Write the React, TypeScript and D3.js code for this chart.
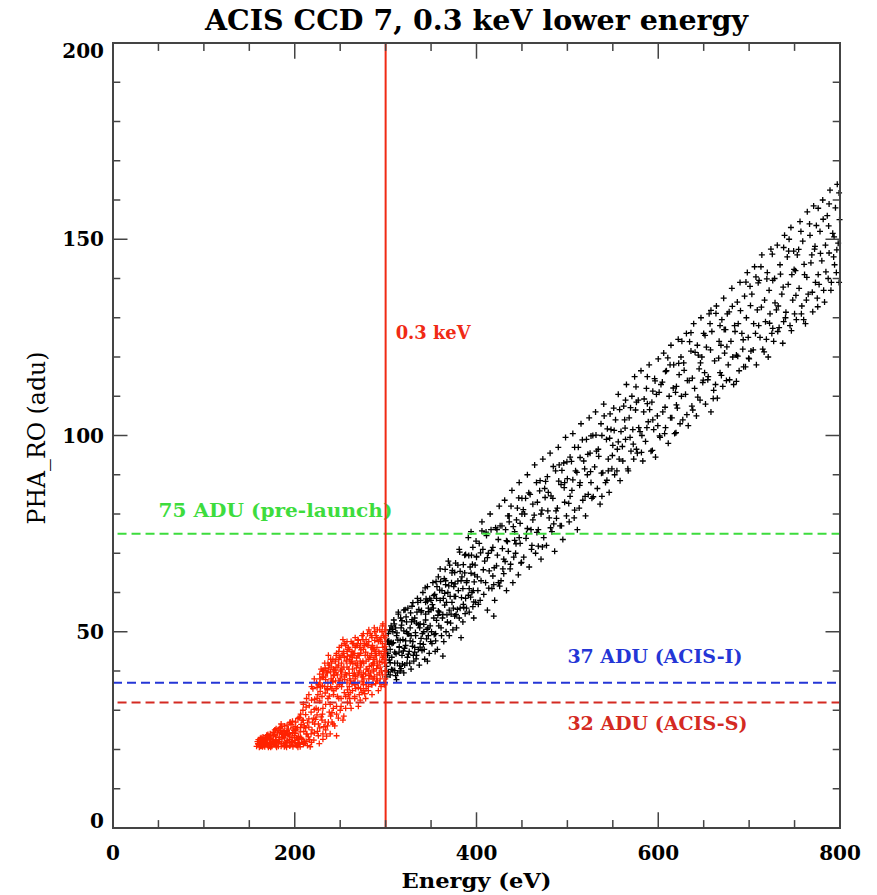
import * as d3 from 'd3';

// ---- chart text ----
const title = 'ACIS CCD 7, 0.3 keV lower energy';
const xLabel = 'Energy (eV)';
const yLabel = 'PHA_RO (adu)';

// ---- ticks ----
const xMajorTicks = [0, 200, 400, 600, 800];
const xMinorTicks = [50, 100, 150, 250, 300, 350, 450, 500, 550, 650, 700, 750];
const yMajorTicks = [0, 50, 100, 150, 200];
const yMinorTicks = [10, 20, 30, 40, 60, 70, 80, 90, 110, 120, 130, 140, 160, 170, 180, 190];

// ---- reference lines ----
const cutEnergy = 300; // eV
const cutLabel = '0.3 keV';
const thresholdKeys = ['pre', 'acisI', 'acisS'];
const thresholdValues = [75, 37, 32];
const thresholdLabels = ['75 ADU (pre-launch)', '37 ADU (ACIS-I)', '32 ADU (ACIS-S)'];

// ---- events below 0.3 keV (energy eV, pha adu) ----
const lowEventsA: [number, number][] = [
  [158, 20.8], [159, 22.0], [160, 21.3], [161, 20.6], [162, 22.8], [163, 21.7], [164, 20.9], [165, 23.2], [166, 22.1], [167, 20.7],
  [168, 21.5], [169, 23.6], [170, 22.4], [171, 20.6], [172, 21.8], [173, 24.0], [174, 22.9], [175, 20.8],
  [176, 23.5], [177, 21.2], [178, 25.0], [179, 22.4], [180, 20.6], [181, 24.2], [182, 21.9], [183, 23.1], [184, 25.6], [185, 20.8],
  [186, 22.7], [187, 24.8], [188, 21.4], [189, 26.0], [190, 23.6], [191, 20.6], [192, 22.2], [193, 25.2], [194, 24.0], [195, 21.1],
  [196, 26.4], [197, 23.0], [198, 20.7], [199, 24.9], [200, 22.3],
  [201, 27.0], [202, 21.0], [203, 25.5], [204, 23.4], [205, 28.2], [206, 20.7], [207, 26.4], [208, 22.5], [209, 30.0], [210, 24.6],
  [211, 21.6], [212, 28.9], [213, 33.0], [214, 26.8], [215, 23.2], [216, 31.2], [217, 20.7], [218, 29.5], [219, 25.0], [220, 35.5],
  [221, 22.4], [222, 32.8], [223, 27.7], [224, 37.0], [225, 24.6], [226, 30.1], [227, 21.5], [228, 34.8], [229, 28.3], [230, 38.4],
  [231, 22.6], [232, 25.8], [233, 36.0], [234, 31.5], [235, 23.4], [236, 39.5], [237, 27.0], [238, 33.6], [239, 24.0], [240, 41.0],
  [241, 29.4], [242, 37.2], [243, 35.0], [244, 26.0], [245, 42.5], [246, 31.0], [247, 39.0], [248, 28.0], [249, 36.5], [250, 43.5],
  [251, 33.0], [252, 40.5], [253, 27.5], [254, 45.0], [255, 37.8], [256, 30.5], [257, 42.6], [258, 35.2], [259, 46.0], [260, 39.4],
  [261, 31.8], [262, 44.1], [263, 36.7], [264, 41.8], [265, 47.0], [266, 33.5], [267, 38.6], [268, 43.3], [269, 46.5], [270, 35.8],
  [271, 40.0], [272, 32.6], [273, 45.4], [274, 37.4], [275, 48.0], [276, 42.0], [277, 34.2], [278, 39.2], [279, 46.8], [280, 44.0],
  [281, 36.0], [282, 41.2], [283, 49.5], [284, 38.5], [285, 34.0], [286, 45.6], [287, 43.0], [288, 47.8], [289, 36.8], [290, 40.6],
  [291, 50.5], [292, 35.0], [293, 44.5], [294, 38.0], [295, 48.5], [296, 42.2], [297, 52.0], [298, 37.0], [299, 46.2], [299.5, 40.0],
  [226, 36.5], [228, 38.0], [230, 33.5], [232, 40.0], [234, 37.8], [236, 35.2], [238, 41.5], [240, 38.0], [242, 43.0], [244, 40.2],
  [246, 44.5], [248, 41.5], [250, 38.0], [252, 44.0], [254, 41.0], [256, 46.5], [258, 43.8], [260, 36.0], [262, 47.5], [264, 38.8],
  [266, 44.5], [268, 40.8], [270, 47.8], [272, 42.5], [274, 49.0], [276, 38.0], [278, 44.8], [280, 49.5], [282, 38.8], [284, 46.0],
  [286, 42.0], [288, 50.0], [290, 44.0], [292, 47.5], [294, 41.0], [296, 50.0], [298, 44.0], [299.8, 49.0],
  [229, 40.5], [233, 42.0], [237, 44.0], [241, 35.5], [245, 37.5], [249, 46.0], [253, 48.0], [257, 39.0], [261, 42.0], [265, 37.0],
  [269, 41.5], [273, 39.0], [277, 46.5], [281, 40.0], [285, 48.5], [289, 45.0], [293, 39.5], [297, 46.0], [263, 45.0], [271, 44.0],
  [279, 37.0], [287, 40.0], [295, 44.5], [283, 43.5], [275, 42.5], [267, 35.5], [259, 34.0], [247, 33.5], [239, 31.5], [231, 30.5],
  [218, 24.0], [222, 26.5], [226, 23.5], [230, 27.5], [234, 25.0], [238, 29.5], [242, 26.5], [246, 23.5], [250, 30.0], [254, 28.5],
  [258, 32.0], [262, 30.5], [266, 33.0], [270, 31.0], [274, 34.5], [278, 33.0], [285, 36.5], [290, 37.5], [295, 36.0], [299.6, 38.0],
  [160, 22.5], [163, 23.0], [166, 21.0], [170, 21.0], [174, 21.5], [178, 22.0], [182, 20.8], [186, 24.0], [190, 21.8], [194, 22.5],
  [198, 25.5], [202, 23.0], [206, 24.5], [210, 22.0], [214, 21.0], [205, 21.5], [195, 27.0], [185, 26.5], [212, 25.5], [208, 27.5],
];

const lowEventsB: [number, number][] = [
  [161.5, 21.8], [164.5, 22.4], [164.5, 20.7], [167.5, 23.0], [167.5, 21.6], [170.5, 23.8], [170.5, 21.2], [173.5, 22.6], [173.5, 20.6],
  [176.5, 24.4], [176.5, 21.9], [179.5, 23.2], [179.5, 20.9], [179.5, 25.3], [182.5, 24.9], [182.5, 22.6],
  [185.5, 21.5], [185.5, 23.8], [185.5, 25.9], [188.5, 22.9], [188.5, 24.5], [188.5, 20.7], [191.5, 26.2], [191.5, 24.8], [191.5, 21.6],
  [194.5, 23.4], [194.5, 20.9], [194.5, 26.8], [197.5, 22.0], [197.5, 24.3], [197.5, 27.2], [200.5, 21.4], [200.5, 25.9], [200.5, 24.1],
  [203.5, 27.9], [203.5, 22.6], [203.5, 20.6], [206.5, 25.6], [206.5, 29.0], [206.5, 23.1], [209.5, 21.3], [209.5, 27.4], [209.5, 31.5],
  [212.5, 23.9], [212.5, 30.8], [212.5, 22.1], [215.5, 27.8], [215.5, 34.0], [215.5, 25.7], [218.5, 32.6], [218.5, 21.8], [218.5, 36.0],
  [221.5, 30.2], [221.5, 38.0], [221.5, 24.2], [224.5, 33.0], [224.5, 35.8], [224.5, 28.8],
  [227.5, 39.2], [227.5, 37.0], [227.5, 32.4], [227.5, 25.5], [230.5, 36.2], [230.5, 40.0], [230.5, 29.0],
  [233.5, 38.5], [233.5, 34.4], [233.5, 40.8], [233.5, 27.0], [236.5, 37.0], [236.5, 42.0], [236.5, 33.0],
  [239.5, 39.8], [239.5, 36.0], [239.5, 43.0], [239.5, 28.5], [242.5, 40.5], [242.5, 34.0], [242.5, 38.8], [242.5, 30.5],
  [245.5, 41.0], [245.5, 44.0], [245.5, 35.5], [245.5, 39.5], [248.5, 43.0], [248.5, 37.5], [248.5, 45.0], [248.5, 33.0],
  [251.5, 39.0], [251.5, 42.0], [251.5, 36.0], [251.5, 46.5], [254.5, 43.5], [254.5, 38.5], [254.5, 47.0], [254.5, 34.5],
  [257.5, 45.0], [257.5, 41.0], [257.5, 37.0], [257.5, 47.5], [260.5, 43.0], [260.5, 38.0], [260.5, 45.5], [260.5, 33.0],
  [263.5, 40.5], [263.5, 47.0], [263.5, 43.5], [263.5, 35.0], [266.5, 46.0], [266.5, 42.0], [266.5, 38.0], [266.5, 48.5],
  [269.5, 44.0], [269.5, 39.0], [269.5, 37.0], [269.5, 48.0], [272.5, 47.0], [272.5, 41.0], [272.5, 44.5], [272.5, 35.5],
  [275.5, 45.5], [275.5, 39.5], [275.5, 49.5], [275.5, 36.5], [278.5, 42.5], [278.5, 48.0], [278.5, 35.5], [278.5, 40.5],
  [281.5, 47.5], [281.5, 43.0], [281.5, 50.5], [281.5, 38.0], [284.5, 41.5], [284.5, 49.0], [284.5, 44.5], [284.5, 36.5],
  [287.5, 45.5], [287.5, 38.5], [287.5, 51.0], [287.5, 42.0], [290.5, 48.5], [290.5, 42.5], [290.5, 46.0], [290.5, 39.0],
  [293.5, 50.5], [293.5, 37.0], [293.5, 42.5], [293.5, 48.0], [296.5, 39.0], [296.5, 47.0], [296.5, 43.5], [296.5, 51.5],
  [298.8, 42.0], [298.8, 48.5], [298.8, 36.5], [298.8, 45.0],
];

const lowEventsC: [number, number][] = [
  [159.5, 21.5], [162.5, 20.8], [165.5, 21.9], [168.5, 22.6], [171.5, 23.2], [172.5, 20.9], [175.5, 22.0], [177.5, 23.8], [180.5, 21.7],
  [183.5, 22.0], [184.5, 24.5], [187.5, 23.3], [189.5, 21.0], [192.5, 23.8], [196.5, 21.8], [199.5, 23.5], [201.5, 25.0], [204.5, 21.8],
  [207.5, 22.8], [210.5, 26.0], [213.5, 24.0], [216.5, 22.5], [219.5, 27.0], [223.5, 30.5], [225.5, 34.0], [228.5, 36.0], [231.5, 38.5],
  [234.5, 39.5], [235.5, 35.5], [237.5, 40.5], [240.5, 42.0], [241.5, 37.5], [243.5, 39.0], [244.5, 42.5], [246.5, 36.0], [247.5, 41.0],
  [249.5, 43.5], [250.5, 40.0], [252.5, 37.0], [253.5, 44.5], [255.5, 39.5], [256.5, 42.5], [258.5, 45.5], [259.5, 40.5], [261.5, 37.5],
  [262.5, 42.5], [264.5, 44.5], [265.5, 39.5], [267.5, 46.5], [268.5, 42.0], [270.5, 39.5], [271.5, 46.0], [273.5, 42.0], [274.5, 38.5],
  [276.5, 47.0], [277.5, 44.0], [279.5, 40.5], [280.5, 46.5], [282.5, 43.5], [283.5, 39.5], [285.5, 46.5], [286.5, 40.5], [288.5, 44.0],
  [289.5, 49.0], [291.5, 41.5], [292.5, 45.0], [294.5, 47.5], [295.5, 40.0], [297.5, 49.0], [298.2, 43.0], [299.2, 50.5], [291, 37.5],
  [286, 38.0], [281, 35.0], [276, 35.0], [271, 34.0], [266, 36.5], [261, 34.5], [256, 33.5], [251, 31.0], [246, 29.0], [241, 27.0],
  [236, 26.0], [231, 24.0], [226, 26.5], [221, 28.0],
];

// ---- events at or above 0.3 keV ----
const highEventsA: [number, number][] = [
  [301, 38.5], [302, 44.0], [303, 49.5], [301, 41.2], [304, 46.8], [305, 39.0], [306, 51.5], [304, 42.8], [307, 47.0], [308, 40.2],
  [309, 53.0], [310, 44.8], [311, 38.8], [312, 49.0], [313, 42.0], [314, 54.5], [315, 46.0], [316, 40.0], [317, 51.0], [318, 44.0],
  [319, 48.0], [320, 55.5], [321, 41.5], [322, 46.5], [323, 52.5], [324, 43.5], [305, 45.5], [308, 50.0], [312, 37.8], [316, 47.8],
  [320, 39.5], [324, 49.5], [302, 47.5], [310, 42.0], [318, 52.8],
  [326, 45.0], [327, 51.0], [328, 40.5], [329, 56.5], [330, 47.5], [331, 42.5], [332, 53.5], [333, 49.0], [334, 44.0], [335, 58.5],
  [336, 51.8], [337, 41.5], [338, 47.0], [339, 55.0], [340, 45.2], [341, 60.0], [342, 50.0], [343, 43.0], [344, 53.0], [345, 48.2],
  [346, 61.5], [347, 56.0], [348, 44.5], [349, 51.5], [350, 58.0], [332, 46.0], [338, 52.0], [344, 57.5], [328, 49.0], [346, 42.5],
  [351, 47.0], [352, 62.5], [353, 53.5], [355, 49.5], [356, 58.5], [357, 45.5], [359, 55.0], [360, 66.0], [361, 51.0], [362, 60.5],
  [364, 47.5], [365, 56.8], [366, 63.0], [368, 52.5], [369, 68.0], [370, 49.0], [371, 59.0], [372, 54.5], [373, 65.0], [374, 50.5],
  [375, 61.5], [358, 64.0], [363, 43.8], [367, 57.5], [354, 59.5],
  [376, 54.0], [377, 67.5], [378, 51.0], [380, 60.5], [381, 71.0], [382, 56.0], [384, 64.0], [385, 52.5], [387, 69.5], [388, 58.5],
  [389, 62.5], [391, 74.0], [392, 55.0], [393, 66.5], [395, 60.0], [396, 71.5], [397, 53.5], [398, 64.5], [399, 57.5], [400, 69.0],
  [383, 48.5], [394, 75.5],
  [402, 57.0], [403, 72.5], [405, 63.0], [406, 78.0], [408, 59.5], [409, 68.0], [411, 74.5], [412, 55.5], [414, 65.5], [415, 80.0],
  [417, 61.0], [418, 71.5], [420, 58.0], [421, 76.5], [422, 66.8], [424, 62.5], [425, 82.0], [419, 54.0],
  [427, 63.0], [428, 77.0], [430, 68.5], [431, 83.5], [433, 60.5], [434, 73.0], [436, 79.5], [437, 66.0], [439, 86.0], [440, 62.5],
  [442, 75.5], [443, 70.0], [445, 81.5], [446, 64.5], [447, 88.0], [448, 72.5], [449, 67.5], [450, 84.0],
  [452, 69.0], [453, 80.0], [455, 75.0], [456, 90.0], [458, 66.5], [459, 85.0], [461, 72.0], [462, 78.5], [464, 92.5], [465, 70.0],
  [467, 83.0], [468, 76.0], [470, 88.5], [471, 68.5], [472, 81.0], [473, 94.0], [474, 74.0], [475, 86.5],
  [477, 72.0], [478, 89.5], [480, 79.0], [481, 95.5], [483, 75.5], [484, 84.0], [486, 70.5], [487, 91.0], [489, 81.5], [490, 97.0],
  [492, 77.0], [493, 87.5], [495, 73.5], [496, 93.0], [497, 83.0], [498, 99.5], [499, 79.5], [500, 89.0],
  [502, 78.0], [503, 94.5], [505, 86.0], [506, 100.5], [508, 81.0], [509, 91.0], [511, 76.0], [512, 97.0], [514, 88.0], [515, 103.0],
  [517, 83.5], [518, 93.5], [520, 79.5], [521, 99.0], [522, 90.0], [523, 85.0], [524, 104.5], [525, 95.5],
  [527, 84.0], [528, 100.0], [530, 92.0], [531, 106.0], [533, 86.5], [534, 96.5], [536, 82.5], [537, 103.0], [539, 90.5], [540, 108.0],
  [542, 88.0], [543, 99.0], [545, 94.0], [546, 85.5], [547, 105.5], [548, 101.5], [549, 91.5], [550, 97.5],
  [552, 90.0], [553, 104.0], [555, 96.5], [556, 110.5], [558, 88.5], [559, 101.0], [561, 93.5], [562, 107.5], [564, 99.0], [565, 113.0],
  [567, 91.0], [568, 104.5], [570, 96.0], [571, 110.0], [572, 101.5], [573, 94.0], [574, 115.0], [575, 106.5],
  [577, 95.5], [578, 109.0], [580, 101.0], [581, 116.5], [583, 93.5], [584, 106.0], [586, 98.5], [587, 112.0], [589, 103.5], [590, 118.0],
  [592, 96.0], [593, 108.5], [595, 101.5], [596, 114.5], [597, 94.5], [598, 110.5], [599, 105.0], [600, 119.5],
  [602, 99.5], [603, 113.0], [605, 106.0], [606, 121.0], [608, 102.0], [609, 116.5], [611, 98.0], [612, 110.0], [614, 123.0], [615, 104.5],
  [617, 118.0], [618, 100.5], [620, 112.5], [621, 107.0], [622, 124.5], [623, 115.5], [624, 103.0], [625, 120.0],
  [627, 104.0], [628, 118.5], [630, 110.5], [631, 126.0], [633, 102.5], [634, 114.0], [636, 121.5], [637, 107.5], [639, 128.5], [640, 112.0],
  [642, 105.0], [643, 123.0], [645, 117.0], [646, 109.0], [647, 130.0], [648, 120.0], [649, 113.5], [650, 126.0],
  [652, 108.0], [653, 122.5], [655, 115.0], [656, 131.0], [658, 106.0], [659, 126.5], [661, 111.5], [662, 119.0], [664, 133.0], [665, 109.5],
  [667, 124.0], [668, 116.0], [670, 129.5], [671, 112.5], [672, 135.0], [673, 121.0], [674, 127.0], [675, 114.0],
  [677, 118.0], [678, 131.5], [680, 124.0], [681, 137.5], [683, 113.0], [684, 128.0], [686, 120.5], [687, 134.0], [689, 116.5], [690, 139.0],
  [692, 126.0], [693, 122.0], [695, 135.5], [696, 117.5], [697, 130.0], [698, 141.5], [699, 125.0], [700, 119.5],
  [702, 121.5], [703, 136.0], [705, 128.5], [706, 143.0], [708, 118.0], [709, 132.0], [711, 139.5], [712, 125.0], [714, 146.0], [715, 122.0],
  [717, 134.5], [718, 129.0], [720, 141.5], [721, 120.0], [722, 137.0], [723, 131.0], [724, 147.5], [725, 126.0],
  [727, 124.0], [728, 140.0], [730, 132.0], [731, 148.5], [733, 127.5], [734, 143.5], [736, 136.0], [737, 123.5], [739, 151.0], [740, 130.0],
  [742, 145.5], [743, 138.5], [745, 128.0], [746, 153.0], [747, 141.0], [748, 134.5], [749, 147.0], [750, 131.0],
  [752, 129.5], [753, 146.0], [755, 137.5], [756, 154.5], [758, 133.0], [759, 149.5], [761, 141.0], [762, 128.5], [764, 157.0], [765, 136.0],
  [767, 151.0], [768, 144.0], [770, 131.5], [771, 158.5], [772, 147.5], [773, 139.0], [774, 153.5], [775, 135.0],
  [777, 138.5], [778, 152.0], [780, 144.5], [781, 160.0], [783, 134.0], [784, 148.5], [786, 156.0], [787, 140.0], [789, 162.5], [790, 137.0],
  [792, 151.5], [793, 145.5], [795, 158.0], [796, 141.5], [797, 164.0], [798, 149.0], [799, 139.0], [799.5, 155.0],
];

const highEventsB: [number, number][] = [
  [303.5, 47.7], [306.5, 40.4], [309.5, 52.0], [311.5, 44.4], [313.5, 47.9], [315.5, 41.3], [317.5, 51.7], [319.5, 45.1], [321.5, 55.6],
  [323.5, 42.0], [325.5, 49.4], [327.5, 54.8], [329.5, 46.3], [331.5, 52.7], [333.5, 43.1], [335.5, 57.5], [337.5, 51.0], [339.5, 55.4],
  [341.5, 46.8], [343.5, 61.2], [345.5, 50.6], [347.5, 55.1], [349.5, 47.5], [300.5, 40.1], [306, 47.3], [314, 55.0], [322, 47.7],
  [330, 57.4], [338, 46.1], [346, 57.8],
  [351.5, 56.9], [353.5, 49.3], [355.5, 62.8], [357.5, 54.2], [359.5, 60.6], [361.5, 49.0], [363.5, 58.5], [365.5, 65.9], [367.5, 54.3],
  [369.5, 61.7], [371.5, 52.2], [373.5, 65.6], [375.5, 59.0], [377.5, 54.4], [379.5, 62.9], [381.5, 70.3], [383.5, 58.7], [385.5, 67.1],
  [387.5, 54.6], [389.5, 63.0], [391.5, 69.4], [393.5, 58.8], [395.5, 67.2], [397.5, 62.7], [399.5, 73.1], [356, 52.9], [366, 62.0],
  [376, 65.1], [386, 56.2], [396, 56.4],
  [401.5, 60.5], [404.5, 70.1], [407.5, 65.8], [410.5, 75.4], [413.5, 61.1], [416.5, 70.7], [419.5, 66.3], [422.5, 76.0], [425.5, 61.6],
  [428.5, 71.2], [431.5, 67.9], [434.5, 79.5], [437.5, 67.2], [440.5, 76.8], [443.5, 72.4], [446.5, 84.1], [449.5, 67.7], [406, 75.7],
  [412, 68.9], [418, 64.2], [424, 73.5], [430, 64.8], [436, 78.0], [442, 73.3], [448, 77.6], [433, 73.2],
  [451.5, 81.1], [454.5, 73.8], [457.5, 85.4], [460.5, 71.0], [463.5, 79.7], [466.5, 75.3], [469.5, 85.9], [472.5, 71.6], [475.5, 84.2],
  [478.5, 80.8], [481.5, 76.5], [484.5, 92.1], [487.5, 80.8], [490.5, 88.4], [493.5, 77.0], [496.5, 86.7], [499.5, 93.3], [456, 76.3],
  [462, 82.5], [468, 71.8], [476, 88.3], [482, 84.6], [488, 78.9], [494, 91.1],
  [501.5, 82.7], [504.5, 93.4], [507.5, 79.0], [510.5, 90.6], [513.5, 87.3], [516.5, 98.9], [519.5, 84.5], [522.5, 95.2], [525.5, 90.8],
  [528.5, 84.4], [531.5, 100.1], [534.5, 94.7], [537.5, 90.4], [540.5, 105.0], [543.5, 88.6], [546.5, 99.3], [549.5, 94.9], [506, 88.7],
  [514, 94.4], [526, 99.9], [538, 84.5], [544, 101.7],
  [551.5, 101.3], [554.5, 91.0], [557.5, 106.6], [560.5, 97.2], [563.5, 101.9], [566.5, 91.5], [569.5, 107.1], [572.5, 97.8],
  [575.5, 112.4], [578.5, 102.0], [581.5, 95.7], [584.5, 109.3], [587.5, 102.0], [590.5, 106.6], [593.5, 96.2], [596.5, 113.9],
  [599.5, 102.5], [556, 98.4], [564, 109.0], [576, 96.5], [588, 108.1], [594, 111.3],
  [601.5, 99.9], [604.5, 113.6], [607.5, 107.2], [610.5, 119.8], [613.5, 104.5], [616.5, 112.1], [619.5, 100.7], [622.5, 118.4],
  [625.5, 110.0], [628.5, 116.6], [631.5, 105.3], [634.5, 123.9], [637.5, 114.6], [640.5, 121.2], [643.5, 109.8], [646.5, 118.5],
  [649.5, 114.1], [608, 116.3], [620, 107.8], [636, 126.2],
  [651.5, 125.5], [654.5, 114.2], [657.5, 121.8], [660.5, 109.4], [663.5, 131.1], [666.5, 119.7], [669.5, 115.3], [672.5, 127.0],
  [675.5, 122.6], [678.5, 114.2], [681.5, 132.9], [684.5, 126.5], [687.5, 120.2], [690.5, 131.8], [693.5, 124.4], [696.5, 139.1],
  [699.5, 119.7], [658, 131.9], [668, 128.0], [686, 113.8],
  [701.5, 133.1], [704.5, 121.8], [707.5, 140.4], [710.5, 128.0], [713.5, 132.7], [716.5, 121.3], [719.5, 139.9], [722.5, 128.6],
  [725.5, 146.2], [728.5, 133.8], [731.5, 126.5], [734.5, 141.1], [737.5, 137.8], [740.5, 131.4], [743.5, 147.0], [746.5, 126.7],
  [749.5, 142.3], [710, 138.9], [726, 127.3], [738, 147.9],
  [751.5, 135.7], [754.5, 147.4], [757.5, 131.0], [760.5, 143.6], [763.5, 140.3], [766.5, 153.9], [769.5, 136.5], [772.5, 148.2],
  [775.5, 132.8], [778.5, 146.4], [781.5, 155.1], [784.5, 141.7], [787.5, 153.4], [790.5, 139.0], [793.5, 150.6], [796.5, 147.3],
  [799, 161.8], [760, 129.5], [776, 157.9], [788, 146.5],
];

const highEventsC: [number, number][] = [
  [302.5, 44.5], [305, 42.1], [307.5, 50.6], [310, 40.1], [312.5, 49.7], [315, 46.2], [317, 40.6], [320, 50.2], [322.5, 53.8],
  [325, 44.3], [327, 47.7], [329, 53.1], [332, 44.8], [334, 52.2], [336.5, 55.7], [339, 48.3], [342, 51.9], [344.5, 58.4],
  [347, 49.0], [350, 55.6], [353, 59.2], [355, 47.7], [358, 55.3], [360.5, 62.8], [363, 54.4], [365, 59.8], [368, 52.4],
  [370.5, 67.0], [373, 57.5], [376.5, 62.2], [379, 55.7], [382, 65.4], [385, 61.0], [388, 69.7], [391, 59.3], [394, 64.9],
  [397, 57.6], [400, 69.2],
];

const highEventsD: [number, number][] = [
  [300.8, 45.5], [303, 39.8], [304.5, 50.5], [306.8, 43.5], [308.5, 47.2], [311, 51.0], [313, 39.5], [314.8, 44.8], [316.5, 53.5],
  [318.5, 41.8], [320.8, 45.8], [323, 50.0], [324.5, 56.0], [326.5, 42.0], [328.5, 52.5], [330.5, 44.0], [332.8, 49.8], [334.5, 55.0],
  [336, 45.5], [338.5, 58.0], [340.5, 49.5], [342.5, 45.5], [344, 54.5], [346.5, 51.0], [348.5, 58.5], [350.5, 50.0], [352.5, 56.0],
  [354.5, 45.0], [356.5, 61.5], [358.5, 51.5], [360, 58.0], [362.5, 53.5], [364.5, 63.5], [366.5, 50.0], [368.5, 60.0], [370, 55.5],
  [372.5, 62.5], [374.5, 56.0], [377, 59.0], [379.5, 67.0], [381, 53.5], [383, 63.0], [385.5, 57.0], [387, 65.0], [389, 56.0],
  [392, 61.0], [394.5, 69.5], [396.5, 60.5], [398.5, 67.0], [401, 64.0], [404, 58.0], [407, 71.0], [410, 62.5], [413, 70.0],
  [416, 76.0], [419, 62.0], [423, 69.5], [426, 77.0], [429, 66.0], [432, 76.0], [435, 70.5], [438, 82.0], [441, 69.0], [444, 78.5],
  [447, 74.0], [450, 80.0],
  [454, 84.0], [460, 76.0], [466, 88.0], [471, 80.0], [479, 85.5], [485, 77.5], [491, 92.5], [497, 88.0], [503, 84.5], [508, 97.0],
  [513, 81.5], [519, 91.5], [526, 88.0], [532, 96.0], [538, 100.0], [545, 91.0], [551, 107.0], [557, 94.0], [563, 104.0], [569, 99.5],
  [576, 108.5], [582, 100.0], [588, 115.0], [594, 104.0], [601, 111.0], [607, 100.5], [613, 118.0], [619, 111.0], [626, 124.0],
  [632, 114.0], [638, 106.5], [644, 120.5], [651, 116.0], [657, 128.5], [663, 113.0], [669, 123.0], [676, 131.0], [682, 120.0],
  [688, 128.5], [694, 117.5], [701, 138.0], [707, 126.0], [713, 143.0], [719, 124.5], [726, 139.5], [732, 133.0], [738, 129.0],
  [744, 150.0], [751, 142.0], [757, 152.0], [763, 134.5], [769, 146.0], [776, 141.0], [782, 137.0], [788, 159.0], [794, 143.5],
];

const lowEvents = [...lowEventsA, ...lowEventsB, ...lowEventsC];
const highEvents = [...highEventsA, ...highEventsB, ...highEventsC, ...highEventsD];

// colours
const thresholdColor: Record<string, string> = { pre: '#3ddc3d', acisI: '#2436d6', acisS: '#d42a22' };
const cutColor = '#f02a14';
const lowColor = '#ff2200';
const axisColor = '#444';

const W = 877;
const H = 895;
const plot = { left: 113, right: 840, top: 43, bottom: 828 };
const serif = '"DejaVu Serif", serif';

const x = d3.scaleLinear().domain([0, 800]).range([plot.left, plot.right]);
const y = d3.scaleLinear().domain([0, 200]).range([plot.bottom, plot.top]);

const arm = 3;
const crossPath = (pts: [number, number][]) =>
  pts.map(([e, p]) => `M${x(e) - arm},${y(p)}h${2 * arm}M${x(e)},${y(p) - arm}v${2 * arm}`).join('');

export default function App() {
  const xMajLen = 15.7, xMinLen = 7.9;
  const yMajLen = 14.5, yMinLen = 7.3;

  // label placement (pixel offsets from the line each one belongs to)
  const labelPos: Record<string, { e: number; dy: number; len: number }> = {
    pre: { e: 50, dy: -17, len: 234 },
    acisI: { e: 500, dy: -20, len: 175 },
    acisS: { e: 500, dy: 28, len: 180 },
  };

  return (
    <svg width={W} height={H} style={{ position: 'absolute', left: 0, top: 0, background: '#fff' }}>
      <rect width={W} height={H} fill="#fff" />

      {/* title */}
      <text x={(plot.left + plot.right) / 2} y={30} textAnchor="middle" fontFamily={serif} fontWeight="bold"
        fontSize={28} textLength={543} lengthAdjust="spacingAndGlyphs">{title}</text>

      {/* events */}
      <path d={crossPath(highEvents)} stroke="#000" strokeWidth={1.3} fill="none" />
      <path d={crossPath(lowEvents)} stroke={lowColor} strokeWidth={1.3} fill="none" />

      {/* thresholds */}
      {thresholdKeys.map((k, i) => (
        <g key={k}>
          <line x1={x(k === 'acisI' ? 0 : 5)} x2={x(800)} y1={y(thresholdValues[i])} y2={y(thresholdValues[i])}
            stroke={thresholdColor[k]} strokeWidth={2} strokeDasharray="9 5" />
          <text x={x(labelPos[k].e)} y={y(thresholdValues[i]) + labelPos[k].dy} fill={thresholdColor[k]}
            fontFamily={serif} fontWeight="bold" fontSize={18} textLength={labelPos[k].len}
            lengthAdjust="spacingAndGlyphs">{thresholdLabels[i]}</text>
        </g>
      ))}

      {/* 0.3 keV cut */}
      <line x1={x(cutEnergy)} x2={x(cutEnergy)} y1={y(0)} y2={y(200)} stroke={cutColor} strokeWidth={2} />
      <text x={x(cutEnergy) + 10} y={y(124.5)} fill={cutColor} fontFamily={serif} fontWeight="bold" fontSize={18}
        textLength={75} lengthAdjust="spacingAndGlyphs">{cutLabel}</text>

      {/* frame */}
      <rect x={plot.left} y={plot.top} width={plot.right - plot.left} height={plot.bottom - plot.top}
        fill="none" stroke={axisColor} strokeWidth={2} />

      {/* x ticks, bottom and top */}
      {[...xMajorTicks.map((t) => [t, xMajLen]), ...xMinorTicks.map((t) => [t, xMinLen])].map(([t, len]) => (
        <g key={'x' + t} stroke={axisColor} strokeWidth={1.5}>
          <line x1={x(t)} x2={x(t)} y1={plot.bottom} y2={plot.bottom - len} />
          <line x1={x(t)} x2={x(t)} y1={plot.top} y2={plot.top + len} />
        </g>
      ))}
      {/* y ticks, left and right */}
      {[...yMajorTicks.map((t) => [t, yMajLen]), ...yMinorTicks.map((t) => [t, yMinLen])].map(([t, len]) => (
        <g key={'y' + t} stroke={axisColor} strokeWidth={1.5}>
          <line x1={plot.left} x2={plot.left + len} y1={y(t)} y2={y(t)} />
          <line x1={plot.right} x2={plot.right - len} y1={y(t)} y2={y(t)} />
        </g>
      ))}

      {/* tick labels */}
      {xMajorTicks.map((t) => (
        <text key={'xl' + t} x={x(t)} y={860} textAnchor="middle" fontFamily={serif} fontWeight="bold" fontSize={20}>{t}</text>
      ))}
      {yMajorTicks.map((t, i) => (
        <text key={'yl' + t} x={104} y={y(t)} textAnchor="end" fontFamily={serif} fontWeight="bold" fontSize={20}
          dominantBaseline={i === 0 ? 'alphabetic' : i === yMajorTicks.length - 1 ? 'hanging' : 'central'}>{t}</text>
      ))}

      {/* axis titles */}
      <text x={x(400)} y={888} textAnchor="middle" fontFamily={serif} fontWeight="bold" fontSize={21}
        textLength={150} lengthAdjust="spacingAndGlyphs">{xLabel}</text>
      <text transform={`translate(45,${438}) rotate(-90)`} textAnchor="middle" fontFamily={serif} fontSize={24}
        textLength={173} lengthAdjust="spacingAndGlyphs">{yLabel}</text>
    </svg>
  );
}
